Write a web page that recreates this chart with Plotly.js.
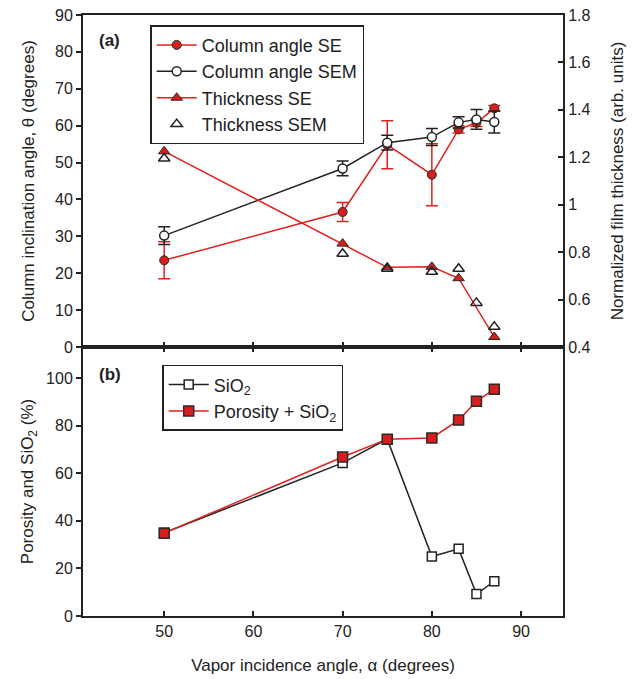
<!DOCTYPE html>
<html><head><meta charset="utf-8">
<script src="https://cdn.plot.ly/plotly-3.0.1.min.js"></script>
<style>html,body{margin:0;padding:0;background:#fff}#chart{width:635px;height:679px}</style>
</head><body><div id="chart"></div>
<script>
// Panel (a)
const angleX = [50, 70, 75, 80, 83, 85, 87];
const colAngleSE = [23.5, 36.6, 54.8, 46.7, 59.0, 60.8, 64.7];
const colAngleSEErr = [5.0, 2.6, 6.5, 8.4, 1.0, 1.0, 0.8];
const colAngleSEM = [30.2, 48.4, 55.4, 56.9, 60.9, 61.7, 61.0];
const colAngleSEMErr = [2.4, 2.0, 2.0, 2.3, 1.5, 2.7, 3.0];
const thickSEX = [50, 70, 75, 80, 83, 87];
const thickSE = [1.225, 0.836, 0.736, 0.738, 0.690, 0.442];
const thickSEMX = [50, 70, 75, 80, 83, 85, 87];
const thickSEM = [1.195, 0.793, 0.730, 0.717, 0.730, 0.586, 0.485];
// Panel (b)
const sio2 = [35, 64.3, 74.3, 25, 28.2, 9.2, 14.6];
const porositySio2 = [34.8, 66.8, 74.3, 74.8, 82.3, 90.2, 95.3];

const RED = '#e3201e';
const MRED = '#d81d1d';
const EDGE = '#2a2a2a';

const traces = [
  {x: angleX, y: colAngleSE, name: 'Column angle SE', mode: 'lines+markers', xaxis: 'x', yaxis: 'y', legend: 'legend',
   line: {color: RED, width: 1.5},
   marker: {symbol: 'circle', size: 9, color: MRED, line: {color: EDGE, width: 1}},
   error_y: {type: 'data', array: colAngleSEErr, visible: true, color: RED, thickness: 1.5, width: 6}},
  {x: angleX, y: colAngleSEM, name: 'Column angle SEM', mode: 'lines+markers', xaxis: 'x', yaxis: 'y', legend: 'legend',
   line: {color: '#222', width: 1.5},
   marker: {symbol: 'circle', size: 9, color: '#fff', line: {color: '#222', width: 1.5}},
   error_y: {type: 'data', array: colAngleSEMErr, visible: true, color: '#222', thickness: 1.5, width: 6}},
  {x: thickSEX, y: thickSE, name: 'Thickness SE', mode: 'lines+markers', xaxis: 'x', yaxis: 'y2', legend: 'legend',
   line: {color: RED, width: 1.5},
   marker: {symbol: 'triangle-up', size: 10, color: MRED, line: {color: EDGE, width: 1}}},
  {x: thickSEMX, y: thickSEM, name: 'Thickness SEM', mode: 'markers', xaxis: 'x', yaxis: 'y2', legend: 'legend',
   marker: {symbol: 'triangle-up-open', size: 10, color: '#222', line: {width: 1.5}}},
  {x: angleX, y: sio2, name: 'SiO<sub>2</sub>', mode: 'lines+markers', xaxis: 'x2', yaxis: 'y3', legend: 'legend2',
   line: {color: '#222', width: 1.5},
   marker: {symbol: 'square', size: 9, color: '#fff', line: {color: '#222', width: 1.5}}},
  {x: angleX, y: porositySio2, name: 'Porosity + SiO<sub>2</sub>', mode: 'lines+markers', xaxis: 'x2', yaxis: 'y3', legend: 'legend2',
   line: {color: RED, width: 1.5},
   marker: {symbol: 'square', size: 10, color: MRED, line: {color: EDGE, width: 1.5}}}
];

const font = {family: 'Liberation Sans, Arial, sans-serif', size: 16, color: '#222'};
const split = 269 / 601;
const axisCommon = {showline: true, linecolor: '#222', linewidth: 2, showgrid: false, zeroline: false,
  tickcolor: '#222', ticklen: 5, tickwidth: 2, tickfont: {size: 16, color: '#222'}};
const titleFont = {size: 17, color: '#222'};

const layout = {
  width: 635, height: 679,
  margin: {l: 83, r: 72, t: 15, b: 63},
  paper_bgcolor: '#fff', plot_bgcolor: '#fff',
  font: font,
  showlegend: true,
  xaxis: Object.assign({}, axisCommon, {domain: [0, 1], range: [40.9, 94.7], anchor: 'y', ticks: 'inside',
    tickvals: [50, 60, 70, 80, 90], showticklabels: false, mirror: true}),
  yaxis: Object.assign({}, axisCommon, {domain: [split, 1], range: [0, 90], dtick: 10, ticks: 'outside', anchor: 'x',
    title: {text: 'Column inclination angle, θ (degrees)', font: titleFont, standoff: 16}}),
  yaxis2: Object.assign({}, axisCommon, {overlaying: 'y', side: 'right', anchor: 'x', range: [0.4, 1.8], dtick: 0.2,
    tick0: 0.4, ticks: 'inside',
    title: {text: 'Normalized film thickness (arb. units)', font: titleFont, standoff: 22}}),
  xaxis2: Object.assign({}, axisCommon, {domain: [0, 1], range: [40.9, 94.7], anchor: 'y3', ticks: 'inside',
    tickvals: [50, 60, 70, 80, 90], mirror: 'ticks',
    title: {text: 'Vapor incidence angle, α (degrees)', font: titleFont, standoff: 20}}),
  yaxis3: Object.assign({}, axisCommon, {domain: [0, split], range: [0, 113], tickvals: [0, 20, 40, 60, 80, 100],
    ticks: 'outside', anchor: 'x2', mirror: true,
    title: {text: 'Porosity and SiO<sub>2</sub> (%)', font: titleFont, standoff: 8}}),
  legend: {x: 0.14, y: 0.983, xanchor: 'left', yanchor: 'top', bgcolor: '#fff', bordercolor: '#222', borderwidth: 1.5,
    font: {size: 18, color: '#222'}, tracegroupgap: 0, itemwidth: 40},
  legend2: {x: 0.165, y: 0.418, xanchor: 'left', yanchor: 'top', bgcolor: '#fff', bordercolor: '#222', borderwidth: 1.5,
    font: {size: 18, color: '#222'}, itemwidth: 40},
  annotations: [
    {text: '<b>(a)</b>', xref: 'paper', yref: 'paper', x: 0.03, y: 0.958, xanchor: 'left', yanchor: 'middle', showarrow: false, font: {size: 17, color: '#222'}},
    {text: '<b>(b)</b>', xref: 'paper', yref: 'paper', x: 0.03, y: 0.401, xanchor: 'left', yanchor: 'middle', showarrow: false, font: {size: 17, color: '#222'}}
  ]
};

Plotly.newPlot('chart', traces, layout, {displayModeBar: false, staticPlot: true});
</script></body></html>
